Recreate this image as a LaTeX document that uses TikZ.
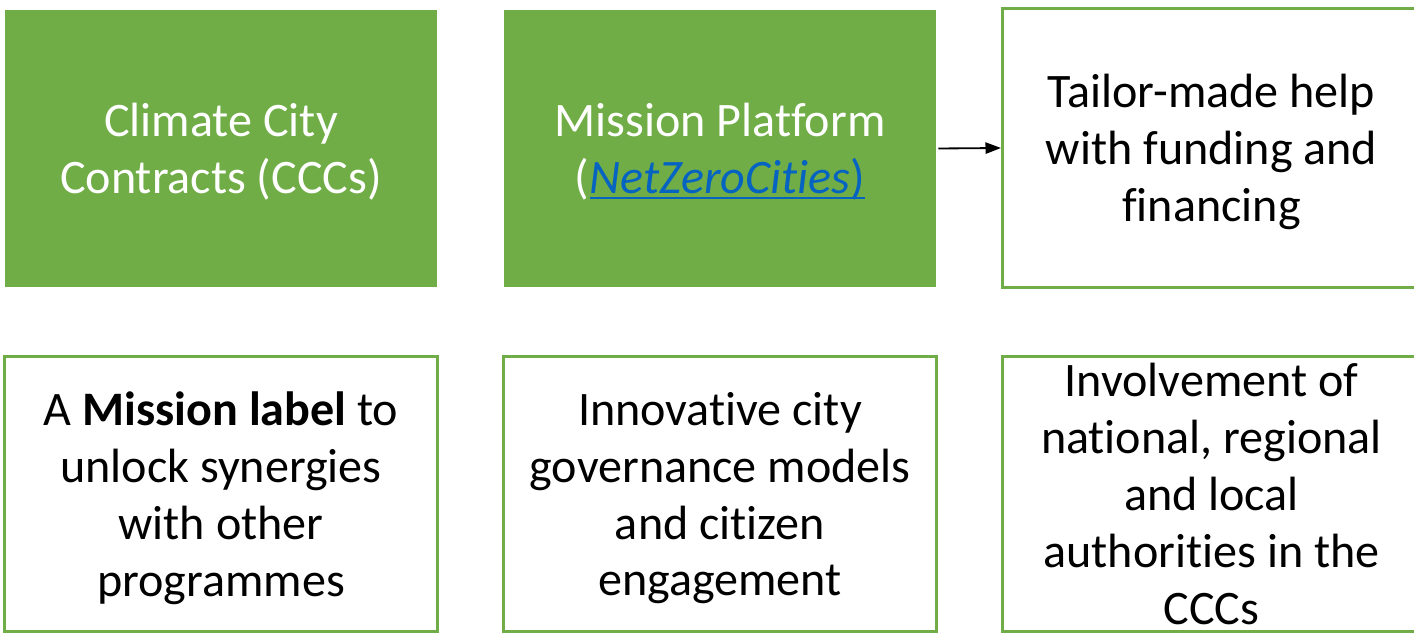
\documentclass[tikz,border=0pt]{standalone}
\usepackage{fontspec}
\setmainfont{Carlito}[RawFeature={-liga;-clig;-calt;-dlig}]
\usetikzlibrary{arrows.meta}
\definecolor{missiongreen}{HTML}{70AD47}
\definecolor{linkblue}{HTML}{0563C1}
\newcommand\linkline[1]{\setbox0\hbox{#1}\rlap{\rule[-4pt]{\wd0}{1.5pt}}\box0}
\newcommand\nolig{\kern0pt{}}

\begin{document}
\begin{tikzpicture} [x=.025cm, y=-.025cm,
  box/.style={align=center, inner sep=0pt, text depth=0pt, font=\fontsize{34.2}{40.5}\selectfont},
  greenbox/.style={box, fill=missiongreen, text=white, minimum width=10.8cm, minimum height=6.925cm},
  linebox/.style={box, draw=missiongreen, line width=2.1pt, minimum width=10.825cm, minimum height=6.875cm}]
\useasboundingbox (0,0) rectangle (1414,636);
\clip (0,0) rectangle (1414,636);

% top row
\node[greenbox] (ccc) at (221,148.5) {Climate City\\Contracts (CCCs)};
\node[greenbox] (platform) at (720,148.5) {Mission Plat\nolig form\\({\color{linkblue}\linkline{\textit{NetZeroCit\nolig ies})}}};
\node[linebox, minimum width=10.45cm, minimum height=6.975cm] (funding) at (1211.5,148) {Tailor-made help\\with funding and\\financing};

% bottom row
\node[linebox] (label) at (221,494) {A \textbf{Mission label} to\\unlock synergies\\with other\\programmes};
\node[linebox] (governance) at (720,494) {Innovat\nolig ive city\\governance models\\and cit\nolig izen\\engagement};
\node[linebox, minimum width=10.45cm] (authorities) at (1211.5,494) {Involvement of\\nat\nolig ional, regional\\and local\\authorit\nolig ies in the\\CCCs};

\draw[line width=1.3pt, -{Triangle[length=11pt, width=8pt]}] (platform.east) ++(2,0) -- (funding.west);

\end{tikzpicture}
\end{document}
